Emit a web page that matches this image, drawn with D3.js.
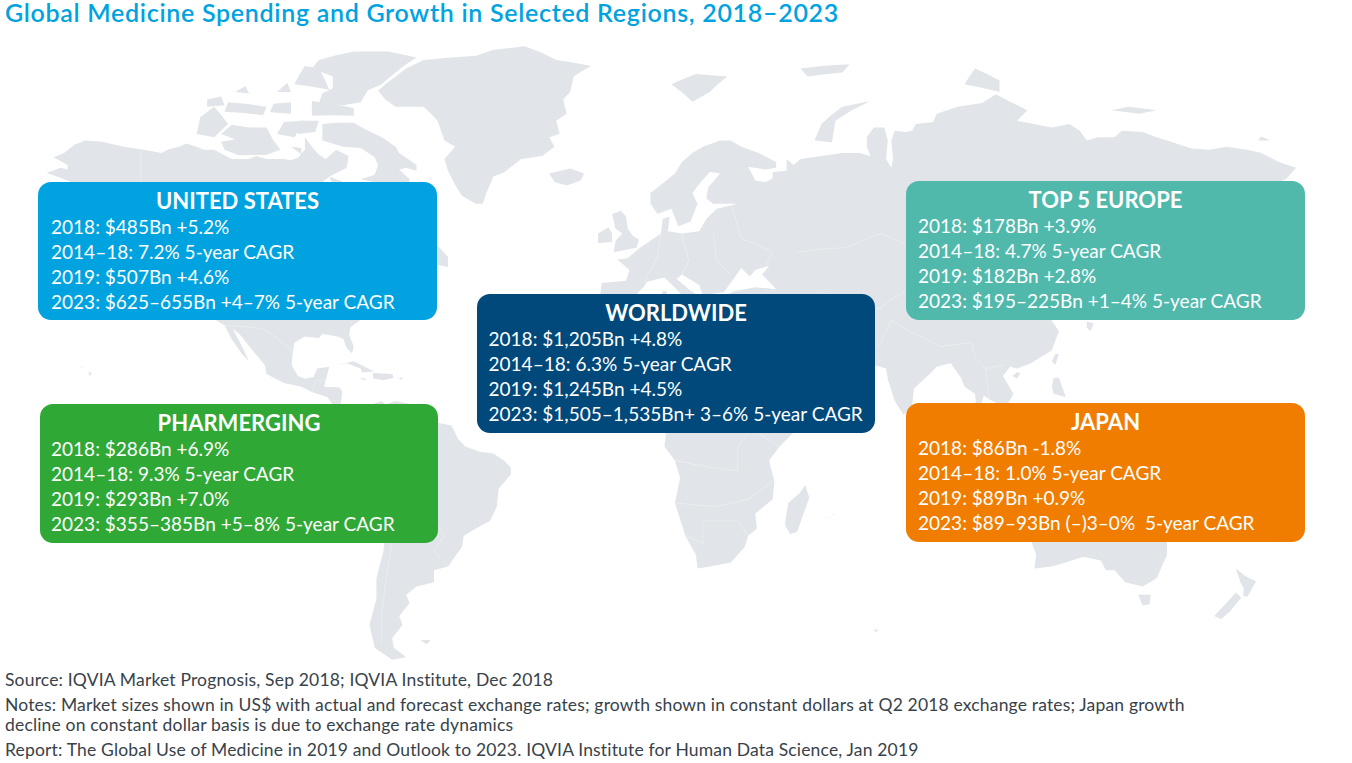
<!DOCTYPE html>
<html>
<head>
<meta charset="utf-8">
<title>Global Medicine Spending</title>
<script src="https://cdn.jsdelivr.net/npm/d3@7"></script>
<style>
  html, body { margin: 0; background: #fff; }
  svg { display: block; font-family: Lato, sans-serif; }
</style>
</head>
<body>
<svg id="chart" width="1352" height="763"></svg>
<script>
// Text of the chart
const titulo = 'Global Medicine Spending and Growth in Selected Regions, 2018–2023';
const regiones = ['UNITED STATES', 'TOP 5 EUROPE', 'WORLDWIDE', 'PHARMERGING', 'JAPAN'];
const lineasUS = ['2018: $485Bn +5.2%', '2014–18: 7.2% 5-year CAGR', '2019: $507Bn +4.6%', '2023: $625–655Bn +4–7% 5-year CAGR'];
const lineasEuropa = ['2018: $178Bn +3.9%', '2014–18: 4.7% 5-year CAGR', '2019: $182Bn +2.8%', '2023: $195–225Bn +1–4% 5-year CAGR'];
const lineasMundo = ['2018: $1,205Bn +4.8%', '2014–18: 6.3% 5-year CAGR', '2019: $1,245Bn +4.5%', '2023: $1,505–1,535Bn+ 3–6% 5-year CAGR'];
const lineasPharm = ['2018: $286Bn +6.9%', '2014–18: 9.3% 5-year CAGR', '2019: $293Bn +7.0%', '2023: $355–385Bn +5–8% 5-year CAGR'];
const lineasJapon = ['2018: $86Bn -1.8%', '2014–18: 1.0% 5-year CAGR', '2019: $89Bn +0.9%', '2023: $89–93Bn (–)3–0%  5-year CAGR'];
const notas = [
  'Source: IQVIA Market Prognosis, Sep 2018; IQVIA Institute, Dec 2018',
  'Notes: Market sizes shown in US$ with actual and forecast exchange rates; growth shown in constant dollars at Q2 2018 exchange rates; Japan growth',
  'decline on constant dollar basis is due to exchange rate dynamics',
  'Report: The Global Use of Medicine in 2019 and Outlook to 2023. IQVIA Institute for Human Data Science, Jan 2019',
];

// Land outlines, [lon, lat]
const norteamerica = [[-168,65.6],[-164,66.5],[-162,66.2],[-162,67],[-166,68.3],[-163,69],[-160,70.3],[-157,71],[-152,70.8],[-146,70],[-141,69.6],[-135,69],[-133,69.6],[-130,70],[-128,70.5],[-125,70],[-123,69.5],[-120,69.5],[-115,68],[-110,68],[-108,68.5],[-105,68],[-100,68],[-98,67.8],[-96,68.2],[-94,69.5],[-94,71.5],[-92,70],[-90,68.7],[-88,68],[-85,69.5],[-81.5,68.5],[-82,66.5],[-87,65],[-90,63.5],[-94,61],[-94.5,58.8],[-92.5,57],[-88,56.4],[-85,55.3],[-82.5,55],[-82,52.9],[-80,51.3],[-79,52],[-79,54.5],[-77,56],[-78,58.5],[-78,62.4],[-73,62],[-70,61],[-69.5,58.8],[-66,58.8],[-64.5,60.3],[-61.5,57],[-57,54],[-56,52],[-60,50],[-66,50],[-69,48],[-65,49],[-64.5,47.5],[-61,45.5],[-66,44],[-67,45],[-70,43.5],[-70,41.7],[-74,40.5],[-75.5,37],[-76,35],[-78,34],[-81,32],[-81.3,30],[-80,27],[-80.5,25.2],[-82,26.5],[-83,29],[-85,29.7],[-89,30.3],[-90,29.2],[-94,29.6],[-97,28],[-97.5,25],[-97.8,22],[-96,19],[-94,18.2],[-91.5,18.7],[-90.5,21],[-87,21.5],[-88,18],[-88.5,16],[-84,15.8],[-83.3,14.5],[-83.7,11],[-82,9],[-79.5,9.5],[-77.5,8.6],[-78,7.5],[-80,7.3],[-83,8.2],[-85.5,10],[-87.5,13],[-92,14.5],[-95,16],[-100,17],[-105,19.5],[-105.5,22],[-109,26],[-112.5,30],[-114.7,31.7],[-112,27],[-110,23],[-112,25],[-115,29],[-117,32.5],[-120.5,34.5],[-122.5,37.5],[-124.3,40.5],[-124,46],[-122.5,48.5],[-127,51],[-130,54.5],[-134,58],[-139,59.8],[-146,60.5],[-152,59],[-158,56],[-163,55],[-158,58.5],[-162,60],[-166,62],[-161,64]];
const sudamerica = [[-77.5,8.5],[-75,11],[-72,12],[-71,11],[-68,12],[-62,10.7],[-60,8.5],[-57,6],[-52,5],[-50,1],[-48,-1],[-44,-2.5],[-40,-3],[-37,-5],[-35,-7],[-35,-9],[-38.5,-13],[-39,-18],[-41,-22],[-45,-24],[-48.5,-26],[-49,-29],[-53,-34],[-57,-35],[-57,-38],[-62,-39],[-65,-41],[-64,-43],[-67,-46],[-66,-48],[-69,-51],[-68.5,-53],[-65,-55],[-69,-55.5],[-74,-53],[-75.5,-48],[-73.5,-42],[-73.5,-37],[-71.5,-30],[-70,-18],[-76,-14],[-81,-6],[-80,-2.5],[-80,1],[-77.5,4],[-77.5,7]];
const africa = [[-6,35.8],[-2,35],[3,36.8],[10,37.3],[11,33.5],[15,32.3],[20,31],[20,32.8],[25,31.7],[32,31.2],[34,31.2],[32.5,30],[34,26],[37,21],[38,18],[43,12],[44,10.5],[51,12],[48,5],[42,-1],[39,-5],[40.5,-11],[40,-16],[35,-20],[35.5,-24],[33,-26],[32,-29],[28,-33],[22,-34],[18.5,-34.5],[18,-31],[15,-26],[12,-17],[13.5,-10],[12,-5],[9,-1],[9.5,3.5],[6,4.3],[4,6.3],[-2,5],[-7.5,4.5],[-13,8.5],[-16.5,12.5],[-17.5,14.7],[-16,19],[-17,21],[-13,27.5],[-9.5,31]];
const eurasia = [[-5.5,36],[-9,37],[-9.5,39],[-9,43],[-2,43.5],[-1,46],[-4.5,48.4],[-1.5,48.7],[2,51],[4,52],[8,54],[8.5,57],[10.5,57.5],[10,54.5],[14,54],[19,54.5],[21,57],[24,59],[30,60],[23,60],[21,61],[21.5,63],[25,65.5],[22,65.8],[17,62],[18.5,60],[16.5,56.5],[13,55.5],[11,59],[7,58],[5,60],[5,62],[8,63.5],[12,65.5],[14,67.5],[17,69],[20,70],[25,71],[28,71],[31,70],[36,69],[41,67.5],[41,66.5],[38,66.2],[33,66.7],[34.5,65],[35,64.3],[38,64],[40,64.7],[40,65.8],[44,66],[44,68],[46,67],[48,68],[54,68.5],[60,69],[65,69],[68,68.5],[67,70],[67,71.5],[69,73],[72,73],[73,71],[72.5,68],[74,66.5],[74.5,68],[74,71],[75,72.5],[78,72.3],[80,72.5],[81,73.5],[86,73.8],[87,75],[93,76],[100,76.5],[104,77.7],[108,76.7],[113,75.5],[110,74],[113,73.7],[120,73],[125,73.5],[128,72.5],[130,71],[133,71.5],[138,71.5],[140,72.5],[146,72.3],[150,71.5],[153,71],[160,69.7],[165,69.5],[170,70],[176,69.5],[180,69],[185,67.5],[190,66.5],[187,64.5],[180,62.5],[177,62.5],[170,60],[163,59.5],[162,56],[157,51],[155.5,56],[160,61],[155,59.5],[143,59.3],[135,54.5],[141,53],[140,48],[135,43.5],[130,42.5],[127.5,39.5],[129.5,36],[126.5,34.5],[126,37.5],[125,39.7],[121,39],[118,39],[122,37],[119,35],[122,31],[120,26],[114,22.5],[110,21],[108,21.5],[106,19],[109,14],[107,10.5],[105,9],[105,11],[102,12.5],[100.5,13.5],[99.5,10],[103.5,4],[104,1.4],[101,3],[98.5,8],[98,14],[95,16],[94,18.5],[91,22.5],[87,21.5],[85,19.5],[80.5,15.5],[80,11],[77.5,8],[75,12],[73,18],[72.5,21],[69,22],[67,25],[62,25],[57,26],[56,27],[51,28],[48.5,30],[48,29],[50,26],[51.5,25],[54,24],[56.5,26],[59.5,22.5],[55,17],[45,13],[43,13],[42,16.5],[39,21],[35,28],[34.5,31],[35.5,35.5],[36,36.7],[32,36],[28,36.5],[26.5,38.5],[26.5,40],[29,41],[35,42],[41,41.5],[37,45],[39,47],[35,46],[33.5,44.5],[31,46.5],[28,43],[26,40.8],[23,40.5],[24,38],[22.5,36.5],[21,38.5],[19.5,41],[19,42.5],[14,45],[12.5,44],[16,41.5],[18.5,40],[16.5,40],[16,38],[12.5,41.5],[9,44.3],[4,43.3],[3,42],[0,39.5],[-2,36.8]];
const groenlandia = [[-73,78.2],[-71,77],[-68,76],[-60,76],[-56,74],[-54,71],[-51,70],[-54,68],[-53,66],[-51,63.5],[-49,61.5],[-45,60],[-43,60],[-42,62],[-40,65],[-37,65.7],[-32,68],[-26,68.5],[-22.5,70],[-24,71.5],[-21,72],[-22,74],[-19,75],[-20,77],[-18,78],[-17,80],[-12,81.3],[-22,82],[-31,83.6],[-40,83.2],[-45,82.5],[-52,82.3],[-60,82],[-65,81],[-68,80]];
const artico = [
  [[-80,73.7],[-77,72.8],[-72,71.5],[-68,70],[-67,69],[-62,67],[-62,66],[-65,66.5],[-67,66.2],[-64,64.5],[-64,63.3],[-66,62],[-69,62.8],[-72,63.7],[-78,64.5],[-74,65.3],[-73,67],[-74,68.3],[-78,69.8],[-83,70],[-89,71],[-89,73.5],[-85,73.7]],
  [[-117,69.5],[-113,68.6],[-105,68.7],[-101,69.5],[-103,71],[-105,73],[-110,73],[-115,73.4],[-118,72],[-114,71.2],[-118,70.8]],
  [[-125,72],[-120,71.5],[-116,73.5],[-120,76],[-124,74.5]],
  [[-90,76.5],[-83,76.2],[-78,76.6],[-76,78.2],[-72,79],[-68,80.5],[-62,82.3],[-70,83],[-80,83],[-90,82],[-92,81],[-86,80],[-86,78.5],[-89,77.8]],
  [[-92,74.7],[-80,74.7],[-80,75.8],[-92,76.8]],
  [[-117,75.3],[-106,74.8],[-105,76],[-116,76.6]],
  [[-97,79],[-87,78.3],[-90,81],[-94,81.3]],
  [[-102,72],[-97,71.5],[-94,74],[-100,73.8]],
  [[-96,72],[-91,72.3],[-90,74],[-96,74]],
  [[-87,65],[-81,63.5],[-83,62.5],[-86,63.5]],
  [[-104,75.2],[-98,75],[-98,76.6],[-103,76.4]],
  [[-122,76],[-117,76.2],[-118,77.4],[-122,77]],
  [[-114,78],[-110,77.8],[-111,78.8]],
  [[-102,78],[-98,78],[-99,79.2]],
  [[-98,70],[-95,68.8],[-95,69.8]],
  [[11,79],[17,76.7],[22,78],[27,80],[18,80.3]],
  [[52,71],[57,70.7],[58,74],[68,76.8],[60,76],[54,73.5]],
  [[50,80],[60,80.5],[62,81.5],[48,81]],
  [[95,79],[105,78],[105,79.5],[98,81]],
  [[137,75.5],[145,75],[150,75.5],[142,76]],
  [[179,71],[182.5,71],[180,71.6]],
];
const islas = [
  [[-59,47.7],[-53,46.7],[-53,49],[-56,51.5],[-58,50]],
  [[-128,50.7],[-125,50],[-123.5,48.5],[-125.5,48.8]],
  [[-5.5,50],[1,51],[1.7,52.7],[0,53.5],[-1.5,55],[-2,57.5],[-3.5,58.6],[-6,58],[-5,55],[-3,54],[-5,52.5]],
  [[-10,52],[-6,52.2],[-6,54],[-7,55.3],[-10,54]],
  [[-24,65.5],[-18,66.4],[-14,65.5],[-15,64.3],[-19,63.4],[-22.5,64]],
  [[142,54],[143.5,50],[143,46],[142,46],[142,50]],
  [[131,34],[136,34],[140,35],[141,38],[141.5,41],[140,41],[139,38],[136,37],[133,35.5]],
  [[130,33.5],[132,33],[131,31],[130,32]],
  [[140,42],[143,42],[145.5,43.5],[142,45.5],[141,43.5]],
  [[120,23],[121,22],[122,25],[121,25]],
  [[108.7,19],[110,18.3],[111,19.8],[110,20]],
  [[120,16],[120.5,14],[124,13],[122,18.5],[120.5,18.5]],
  [[122,7],[126,6],[126.5,9],[123.5,8.5]],
  [[80,9.5],[81.8,7.5],[80.5,6],[79.8,7.5]],
  [[95.5,5.5],[98,4],[104,-2],[106,-6],[102,-4.5],[98.5,1]],
  [[105.5,-6.5],[110,-6.5],[114.5,-7.7],[114,-8.7],[106,-7.5]],
  [[109,1.5],[111,2],[113,3.5],[116.5,7],[119,5],[117.5,1],[116,-4],[111,-3],[109,0]],
  [[119.5,-5.5],[119,-2],[120,1],[125,1.5],[121,-1],[123,-4.5],[121,-3.5],[120.5,-5.5]],
  [[131,-1],[134,-0.8],[135,-3],[141,-2.6],[146,-5.5],[148,-8],[150.5,-10.5],[146,-8.5],[143,-9],[138,-8],[138,-5.5],[133,-4]],
  [[114,-22],[122,-18],[125,-14.5],[129,-15],[131,-12],[136.5,-12],[135.5,-15],[140,-17.5],[142,-11],[145.5,-15],[146.5,-19],[153,-25.5],[153,-31],[150,-37],[146,-39],[141,-38],[138,-35],[135.5,-35],[134,-32.5],[129,-31.5],[124,-33],[120,-34],[115,-34.5],[115.5,-31],[113.5,-26]],
  [[144.7,-41],[148.3,-41],[148,-43.3],[146,-43.6]],
  [[172.7,-34.5],[175.5,-36.5],[178.5,-37.7],[176,-41.5],[174.8,-41.3],[175,-39.5],[174,-38]],
  [[172.7,-40.5],[174.3,-41.7],[171,-45],[168.5,-46.7],[166.5,-46],[170,-43]],
  [[49.3,-12],[50.5,-15.5],[47,-25],[45,-25.5],[43.5,-23],[44.5,-17],[48,-14]],
  [[-85,22],[-80,23],[-74.2,20.2],[-77.7,19.9],[-78,21],[-82,22.5]],
  [[-74.5,19.8],[-69,19.5],[-68.5,18.5],[-71.5,17.8],[-74.5,18.3]],
  [[-78.3,18.4],[-76.3,18.2],[-77,17.8]],
  [[-67.2,18.5],[-65.7,18.4],[-66.5,17.9]],
  [[-61,-51.5],[-58,-51.3],[-59,-52.3]],
  [[69,-49],[70.5,-49.2],[69.5,-49.7]],
  [[-156,20.2],[-155,19.7],[-155.7,19]],
  [[-158.3,21.6],[-157.7,21.4],[-158,21.2]],
  [[8.3,41],[9.7,41],[9.5,39.2],[8.5,39]],
  [[12.5,38.1],[15.6,38.2],[15,36.7]],
  [[23.5,35.5],[26.2,35.2],[24.5,35]],
  [[32.3,35],[34.5,35.6],[33.5,34.7]],
  [[57.3,-20],[57.8,-20.2],[57.5,-20.5]],
  [[55.3,-21],[55.8,-21.1],[55.5,-21.4]],
];
// Faint white borders
const fronteras = [
  [[-141,69.6],[-141,60.2]],
  [[-117,32.5],[-106,31.7],[-97.5,25.9]],
  [[-92,14.5],[-91,17.5],[-88.5,18]],
  [[-70,-18],[-68,-23],[-70,-33],[-72,-45],[-72,-52]],
  [[-70,-18],[-69,-11],[-74,-8],[-70,-4],[-67,1],[-60,5]],
  [[-58,-20],[-62,-22],[-68,-23]],
  [[-58,-20],[-54,-26],[-57,-30],[-53,-34]],
  [[-69,-11],[-60,-14],[-58,-20]],
  [[-17,21],[-5,25],[12,23.5],[25,20],[36,22]],
  [[25,31.7],[25,20],[24,9],[30,4],[34,4],[42,-1]],
  [[12,-5],[22,-7],[30,-8],[30,-1],[34,4]],
  [[12,-17],[24,-18],[33,-16],[40,-11]],
  [[15,-26],[20,-28],[20,-22],[30,-22],[33,-26]],
  [[3,36.8],[9,30],[12,23.5],[14,13],[9,4]],
  [[-13,8.5],[-5,10],[3,12],[14,13],[24,9]],
  [[8,54],[7,49],[3,43]],
  [[14,54],[16,48],[14,45]],
  [[23,54],[24,48],[28,45]],
  [[28,60],[31,53],[40,50],[38,47]],
  [[47,50],[61,51],[71,54],[80,51],[87,49]],
  [[87,49],[98,52],[107,50],[118,49],[120,53],[127,50],[135,48]],
  [[54,41],[62,36],[71,37],[74,39],[80,42],[87,49]],
  [[87,49],[96,43],[111,43],[118,49]],
  [[45,39],[48,39],[61,36],[61,25]],
  [[74,34],[79,31],[88,27],[97,28],[98,24],[101,21],[106,22]],
  [[61,30],[71,37]],
  [[67,25],[71,28],[74,34]],
  [[101,21],[102,12.5]],
  [[36,36.7],[45,37],[48,30]],
  [[36,29],[47,29],[56,24]],
];
// Lines of the boxes by region
const lineasPorRegion = [lineasUS, lineasEuropa, lineasMundo, lineasPharm, lineasJapon];
const coloresCaja = ['#00a3e0', '#50b9ac', '#00497a', '#2fa836', '#f07d00'];

// Box layout [x, y, w, h, text inset], same order as regiones
const CAJAS = [[38, 182, 399, 138, 13], [906, 181, 399, 139, 12], [477, 294, 398, 139, 11.5], [40, 404, 398, 139, 11], [906, 403, 399, 139, 12]];

const TIERRA = '#e1e4e8';
const COLOR_TITULO = '#00a3e0';
const COLOR_NOTA = '#37424a';

// Miller cylindrical, the projection of the base map
function millerRaw(lambda, phi) {
  return [lambda, 1.25 * Math.log(Math.tan(Math.PI / 4 + 0.4 * phi))];
}

function anillo(puntos) {
  const ring = puntos.concat([puntos[0]]);
  const feat = { type: 'Polygon', coordinates: [ring] };
  // d3 takes the ring order as inside/outside of the sphere
  if (d3.geoArea(feat) > 2 * Math.PI) ring.reverse();
  return feat;
}

const svg = d3.select('#chart');
const proyeccion = d3.geoProjection(millerRaw)
  .rotate([-11, 0])
  .scale(200)
  .translate([671.4, 443])
  .precision(0.3);
const generador = d3.geoPath(proyeccion);

const tierras = [norteamerica, sudamerica, africa, eurasia, groenlandia, ...artico, ...islas].map(anillo);

svg.append('g').attr('class', 'capa-tierra')
  .selectAll('path')
  .data(tierras)
  .join('path')
  .attr('d', generador)
  .attr('fill', TIERRA);

svg.append('g').attr('class', 'capa-fronteras')
  .selectAll('path')
  .data(fronteras)
  .join('path')
  .attr('d', (d) => generador({ type: 'LineString', coordinates: d }))
  .attr('fill', 'none')
  .attr('stroke', '#fff')
  .attr('stroke-opacity', 0.55)
  .attr('stroke-width', 0.6);

svg.append('text')
  .attr('x', 5).attr('y', 22)
  .attr('font-size', 25)
  .attr('font-weight', 600)
  .attr('letter-spacing', 0.7)
  .attr('fill', COLOR_TITULO)
  .text(titulo);

const cajas = svg.append('g').attr('class', 'capa-cajas')
  .selectAll('g')
  .data(regiones)
  .join('g')
  .attr('transform', (d, i) => `translate(${CAJAS[i][0]},${CAJAS[i][1]})`);

cajas.append('rect')
  .attr('width', (d, i) => CAJAS[i][2])
  .attr('height', (d, i) => CAJAS[i][3])
  .attr('rx', 13)
  .attr('fill', (d, i) => coloresCaja[i]);

cajas.append('text')
  .attr('x', (d, i) => CAJAS[i][2] / 2)
  .attr('y', 27)
  .attr('text-anchor', 'middle')
  .attr('font-size', 22)
  .attr('font-weight', 700)
  .attr('fill', '#fff')
  .text((d) => d);

cajas.each(function (d, i) {
  d3.select(this).selectAll('text.linea')
    .data(lineasPorRegion[i])
    .join('text')
    .attr('class', 'linea')
    .attr('x', CAJAS[i][4])
    .attr('y', (l, j) => 52 + j * 25)
    .attr('font-size', 19.05)
    .attr('fill', '#fff')
    .style('white-space', 'pre')
    .text((l) => l);
});

const NOTA_Y = [686, 711, 731, 756];
svg.append('g').attr('class', 'capa-notas')
  .selectAll('text')
  .data(notas)
  .join('text')
  .attr('x', 5)
  .attr('y', (d, i) => NOTA_Y[i])
  .attr('font-size', 17.5)
  .attr('letter-spacing', 0.17)
  .attr('fill', COLOR_NOTA)
  .text((d) => d);
</script>
</body>
</html>
